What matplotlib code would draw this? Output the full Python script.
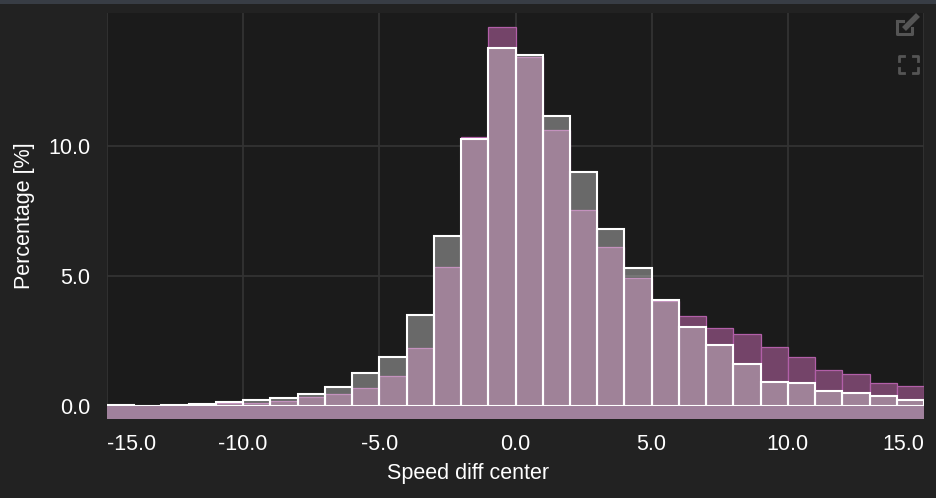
import numpy as np
import matplotlib
matplotlib.use("Agg")
import matplotlib.pyplot as plt
from matplotlib.patches import Rectangle
from matplotlib.lines import Line2D

# bin edges: -15 .. 15, width 1
bin_left = np.arange(-15, 15, 1.0)

# gray series (percentage per bin)
gray_pct = [0.05, 0.03, 0.07, 0.08, 0.17, 0.26, 0.34, 0.47, 0.74, 1.27,
            1.91, 3.51, 6.54, 10.24, 13.72, 13.47, 11.13, 9.00, 6.79, 5.32,
            4.08, 3.06, 2.36, 1.63, 0.94, 0.89, 0.61, 0.51, 0.41, 0.25]

# purple series
purple_pct = [0.05, 0.03, 0.06, 0.07, 0.12, 0.15, 0.22, 0.35, 0.47, 0.72,
              1.17, 2.25, 5.36, 10.34, 14.55, 13.40, 10.59, 7.53, 6.12, 4.91,
              4.05, 3.47, 3.00, 2.78, 2.27, 1.91, 1.40, 1.25, 0.91, 0.80]

xticks = [-15, -10, -5, 0, 5, 10, 15]
yticks = [0, 5, 10]

FIG_BG = "#222222"
AX_BG = "#1b1b1b"
GRID = "#333333"
FS = 15.5

plt.rcParams['font.family'] = ['Liberation Sans', 'DejaVu Sans']

fig = plt.figure(figsize=(9.36, 4.98), dpi=100)
fig.patch.set_facecolor(FIG_BG)

# thin top strip
fig.patches.append(Rectangle((0, 1 - 4 / 498), 1, 4 / 498, transform=fig.transFigure,
                             facecolor="#383d45", edgecolor="none"))

ax = fig.add_axes([107 / 936, 79 / 498, 817 / 936, 405.5 / 498])
ax.set_facecolor(AX_BG)

ax.bar(bin_left, purple_pct, width=1.0, align="edge", color="#744469",
       edgecolor="#b25fa8", linewidth=0.9, zorder=2)
ax.bar(bin_left, gray_pct, width=1.0, align="edge", color=(0.88, 0.88, 0.88, 0.4),
       edgecolor="white", linewidth=1.5, zorder=3)

ymin, ymax = -0.48, 15.06
ax.axhspan(ymin, 0, color="#a0819c", zorder=4, linewidth=0)

ax.set_xlim(-15, 15)
ax.set_ylim(ymin, ymax)
ax.set_xticks(xticks)
ax.set_xticklabels([f"{t:.1f}" for t in xticks])
ax.set_yticks(yticks)
ax.set_yticklabels([f"{t:.1f}" for t in yticks])
ax.grid(True, color=GRID, linewidth=1.3, zorder=0)
ax.set_axisbelow(True)
for s in ax.spines.values():
    s.set_visible(False)
ax.tick_params(length=0, colors="white", labelsize=FS)
ax.tick_params(axis="x", pad=11)
ax.tick_params(axis="y", pad=12)
labs = ax.get_xticklabels()
labs[0].set_ha("left")
labs[-1].set_ha("right")

fig.text(0.5, 1 - 473 / 498, "Speed diff center", color="white", fontsize=FS,
         ha="center", va="center")
fig.text(25 / 936, 1 - 216 / 498, "Percentage [%]", color="white", fontsize=FS,
         ha="center", va="center", rotation=90)

# toolbar icons (top right)
icon = "#555555"
fx = lambda px: px / 936
fy = lambda py: 1 - py / 498
# edit icon: square with pencil
fig.lines.append(Line2D([fx(897), fx(897), fx(912), fx(912)], [fy(21), fy(34), fy(34), fy(28)],
                        transform=fig.transFigure, color=icon, linewidth=2.2))
fig.lines.append(Line2D([fx(897), fx(903)], [fy(21), fy(21)],
                        transform=fig.transFigure, color=icon, linewidth=2.2))
fig.lines.append(Line2D([fx(904), fx(918)], [fy(29), fy(15)],
                        transform=fig.transFigure, color=icon, linewidth=4, solid_capstyle="butt"))
# fullscreen icon: four corners
for cx, cy, dx, dy in [(899, 56, 1, 1), (918, 56, -1, 1), (899, 73, 1, -1), (918, 73, -1, -1)]:
    fig.lines.append(Line2D([fx(cx + 5 * dx), fx(cx), fx(cx)], [fy(cy), fy(cy), fy(cy + 5 * dy)],
                            transform=fig.transFigure, color=icon, linewidth=2))

fig.savefig("out.png", dpi=100, facecolor=FIG_BG)
